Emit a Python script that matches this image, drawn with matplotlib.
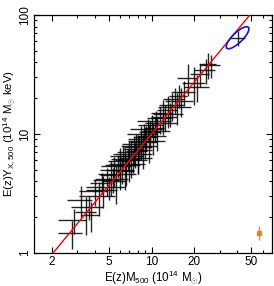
import numpy as np
import matplotlib
matplotlib.use("Agg")
import matplotlib.pyplot as plt
from matplotlib.patches import Ellipse
from matplotlib import transforms
from matplotlib.ticker import LogLocator, NullFormatter, FixedLocator, FixedFormatter

plt.rcParams['font.family'] = ['Liberation Sans', 'DejaVu Sans']
plt.rcParams['mathtext.fontset'] = 'custom'
plt.rcParams['mathtext.rm'] = 'Liberation Sans'
plt.rcParams['mathtext.it'] = 'Liberation Sans'

# cluster sample: E(z)M500 (1e14 Msun) vs E(z)Y_X,500 (1e14 Msun keV)
mass = [2.75, 2.85, 3.2, 3.5, 3.65, 3.75, 4.0, 4.3, 4.5, 4.6, 4.9, 5.0, 5.2, 5.4,
        5.5, 5.6, 5.8, 6.0, 6.0, 6.2, 6.3, 6.5, 6.6, 6.8, 7.0, 7.0, 7.2, 7.4, 7.5,
        7.7, 7.8, 8.0, 8.0, 8.2, 8.4, 8.5, 8.7, 8.8, 9.0, 9.2, 9.5, 9.6, 9.8, 10.0,
        10.2, 10.5, 10.8, 11.0, 11.5, 12.0, 12.0, 12.5, 13.0, 13.5, 14.0, 14.5,
        15.0, 15.5, 16.0, 17.0, 18.0, 20.0, 21.0, 22.0, 24.0, 25.0, 26.0, 40.1]
yx = [1.47, 1.9, 2.8, 2.2, 2.45, 2.1, 3.3, 3.0, 3.9, 3.4, 4.1, 3.6, 4.5, 4.2,
      5.0, 4.0, 5.4, 4.6, 5.9, 5.0, 6.5, 5.5, 4.9, 6.2, 5.6, 7.0, 6.5, 6.0, 7.5,
      6.8, 8.3, 7.2, 6.3, 7.8, 9.0, 8.0, 7.4, 10.0, 8.6, 9.5, 11.0, 8.8, 10.3, 12.0,
      9.6, 11.2, 12.8, 10.5, 13.5, 12.3, 15.0, 14.0, 16.0, 14.8, 17.5, 19.5,
      17.0, 21.0, 19.0, 22.5, 29.8, 27.0, 25.0, 32.0, 34.7, 38.4, 38.0, 64.4]
# relative 1-sigma errors
mass_err = [0.19, 0.22, 0.20, 0.17, 0.25, 0.15, 0.22, 0.28, 0.18, 0.24, 0.20, 0.30,
            0.16, 0.26, 0.21, 0.18, 0.24, 0.30, 0.17, 0.22, 0.19, 0.27, 0.15, 0.23,
            0.28, 0.18, 0.21, 0.25, 0.16, 0.30, 0.20, 0.17, 0.26, 0.22, 0.19, 0.28,
            0.15, 0.24, 0.21, 0.18, 0.26, 0.29, 0.17, 0.20, 0.23, 0.16, 0.27, 0.22,
            0.19, 0.25, 0.18, 0.21, 0.16, 0.24, 0.20, 0.17, 0.26, 0.15, 0.22, 0.19,
            0.16, 0.18, 0.20, 0.15, 0.17, 0.14, 0.16, 0.12]
yx_err = [0.27, 0.24, 0.30, 0.35, 0.22, 0.28, 0.25, 0.32, 0.20, 0.30, 0.26, 0.22,
          0.33, 0.24, 0.28, 0.35, 0.21, 0.27, 0.30, 0.24, 0.22, 0.38, 0.26, 0.20,
          0.30, 0.25, 0.34, 0.22, 0.28, 0.24, 0.20, 0.36, 0.27, 0.23, 0.30, 0.25,
          0.32, 0.21, 0.28, 0.24, 0.22, 0.35, 0.26, 0.20, 0.30, 0.24, 0.22, 0.32,
          0.26, 0.21, 0.28, 0.24, 0.30, 0.22, 0.26, 0.25, 0.30, 0.22, 0.27, 0.24,
          0.30, 0.35, 0.26, 0.22, 0.24, 0.25, 0.22, 0.15]

# best-fit power law  Y = norm * (M / pivot)^slope
fit_norm = 1.0
fit_pivot = 2.04
fit_slope = 1.45

# ellipse of the outlier cluster (centre in data units, size in inches)
ell_centre = (40.1, 64.4)
ell_size = (0.30, 0.10)
ell_angle = 44

# typical error (orange)
typ_x, typ_y = 56.5, 1.48
typ_xerr, typ_yerr = 1.0, 0.2

fig = plt.figure(figsize=(2.74, 2.86), dpi=100)
ax = fig.add_axes([0.124, 0.1154, 0.869, 0.8322])
ax.set_xscale('log')
ax.set_yscale('log')
ax.set_xlim(1.5, 70)
ax.set_ylim(1, 100)

m = np.array(mass)
y = np.array(yx)
ax.errorbar(m, y, xerr=m * np.array(mass_err), yerr=y * np.array(yx_err),
            fmt='none', ecolor='black', elinewidth=1.0, alpha=0.85, capsize=0, zorder=2)

xx = np.array([1.5, 70])
ax.plot(xx, fit_norm * (xx / fit_pivot) ** fit_slope, color='red', lw=1.0, zorder=3)

tr = fig.dpi_scale_trans + transforms.ScaledTranslation(ell_centre[0], ell_centre[1], ax.transData)
ax.add_patch(Ellipse((0, 0), ell_size[0], ell_size[1], angle=ell_angle,
                     transform=tr, fill=False, edgecolor='#1010ee', lw=1.2, zorder=4))

ax.errorbar([typ_x], [typ_y], xerr=[typ_xerr], yerr=[typ_yerr], fmt='s', ms=2.5,
            color='#f08020', ecolor='#f08020', elinewidth=0.9, capsize=0, zorder=4)

ax.xaxis.set_major_locator(FixedLocator([2, 5, 10, 20, 50]))
ax.xaxis.set_major_formatter(FixedFormatter(['2', '5', '10', '20', '50']))
ax.xaxis.set_minor_locator(LogLocator(base=10, subs=np.arange(2, 10)))
ax.xaxis.set_minor_formatter(NullFormatter())
ax.yaxis.set_major_locator(FixedLocator([1, 10, 100]))
ax.yaxis.set_major_formatter(FixedFormatter(['1', '10', '100']))
ax.yaxis.set_minor_locator(LogLocator(base=10, subs=np.arange(2, 10)))
ax.yaxis.set_minor_formatter(NullFormatter())

ax.tick_params(which='both', direction='in', top=True, right=True, width=0.8, labelsize=8.5)
ax.tick_params(which='major', length=4)
ax.tick_params(which='minor', length=2.5)
ax.tick_params(axis='y', pad=2)
ax.tick_params(axis='x', pad=2.5)
for lab in ax.get_yticklabels():
    lab.set_rotation(90)
    lab.set_va('center')
for s in ax.spines.values():
    s.set_linewidth(0.9)

ax.set_xlabel(r'E(z)M$_{500}$ (10$^{14}$ M$_{\odot}$)', fontsize=8.3, labelpad=0)
ax.set_ylabel(r'E(z)Y$_{\rm X,500}$ (10$^{14}$ M$_{\odot}$ keV)', fontsize=8.2, labelpad=1)

fig.savefig('out.png', dpi=100)
